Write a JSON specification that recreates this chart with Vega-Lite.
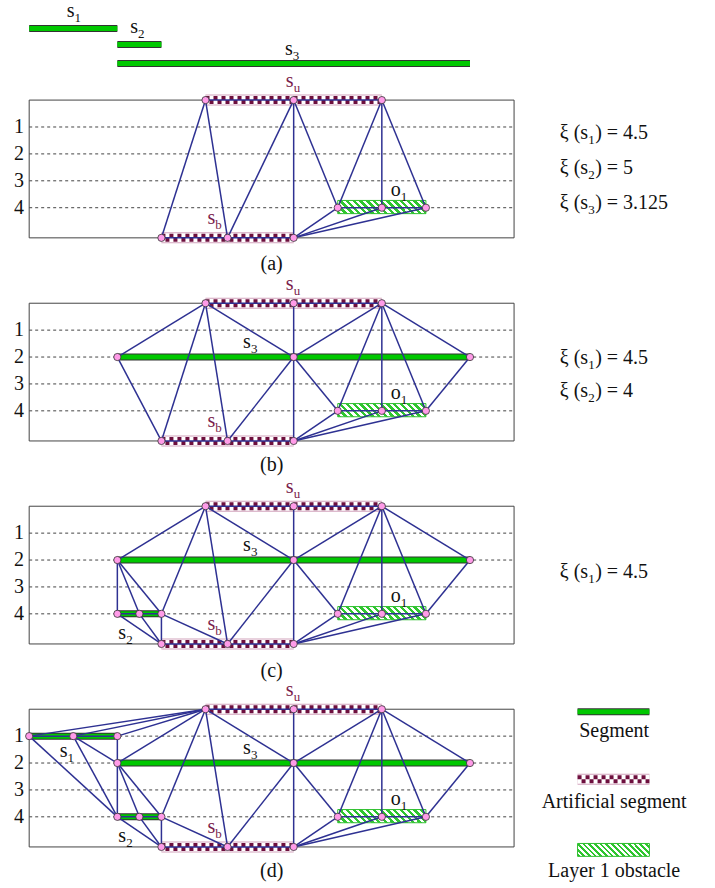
{
  "$schema": "https://vega.github.io/schema/vega-lite/v6.json",
  "padding": 0,
  "spacing": 0,
  "bounds": "flush",
  "config": {"font": "Liberation Serif", "view": {"stroke": null}},
  "datasets": {
    "frame": [{"x": 0, "x2": 11, "y": 0, "y2": 5.12}],
    "layers": [
      {"x": 0, "x2": 11, "y": 1, "label": "1"},
      {"x": 0, "x2": 11, "y": 2, "label": "2"},
      {"x": 0, "x2": 11, "y": 3, "label": "3"},
      {"x": 0, "x2": 11, "y": 4, "label": "4"}
    ],
    "ticks": [{"x": 1}, {"x": 2}, {"x": 3}, {"x": 4}, {"x": 5}, {"x": 6}, {"x": 7}, {"x": 8}, {"x": 9}, {"x": 10}],
    "points": [
      {"x": 4, "y": 0, "first": 1, "last": 4}, {"x": 6, "y": 0, "first": 1, "last": 4}, {"x": 8, "y": 0, "first": 1, "last": 4},
      {"x": 3, "y": 5.12, "first": 1, "last": 4}, {"x": 4.5, "y": 5.12, "first": 1, "last": 4}, {"x": 6, "y": 5.12, "first": 1, "last": 4},
      {"x": 7, "y": 4, "first": 1, "last": 4}, {"x": 8, "y": 4, "first": 1, "last": 4}, {"x": 9, "y": 4, "first": 1, "last": 4},
      {"x": 2, "y": 2, "first": 2, "last": 4}, {"x": 6, "y": 2, "first": 2, "last": 4}, {"x": 10, "y": 2, "first": 2, "last": 4},
      {"x": 2, "y": 4, "first": 3, "last": 4}, {"x": 2.5, "y": 4, "first": 3, "last": 4}, {"x": 3, "y": 4, "first": 3, "last": 4},
      {"x": 0, "y": 1, "first": 4, "last": 4}, {"x": 1, "y": 1, "first": 4, "last": 4}, {"x": 2, "y": 1, "first": 4, "last": 4}
    ],
    "edges": [
      {"x": 4, "y": 0, "x2": 8, "y2": 0, "first": 1, "last": 4},
      {"x": 3, "y": 5.12, "x2": 6, "y2": 5.12, "first": 1, "last": 4},
      {"x": 7, "y": 4, "x2": 9, "y2": 4, "first": 1, "last": 4},
      {"x": 4, "y": 0, "x2": 3, "y2": 5.12, "first": 1, "last": 2},
      {"x": 4, "y": 0, "x2": 4.5, "y2": 5.12, "first": 1, "last": 4},
      {"x": 6, "y": 0, "x2": 4.5, "y2": 5.12, "first": 1, "last": 1},
      {"x": 6, "y": 0, "x2": 6, "y2": 5.12, "first": 1, "last": 1},
      {"x": 6, "y": 0, "x2": 7, "y2": 4, "first": 1, "last": 1},
      {"x": 8, "y": 0, "x2": 7, "y2": 4, "first": 1, "last": 4},
      {"x": 8, "y": 0, "x2": 8, "y2": 4, "first": 1, "last": 4},
      {"x": 8, "y": 0, "x2": 9, "y2": 4, "first": 1, "last": 4},
      {"x": 6, "y": 5.12, "x2": 7, "y2": 4, "first": 1, "last": 4},
      {"x": 6, "y": 5.12, "x2": 8, "y2": 4, "first": 1, "last": 4},
      {"x": 6, "y": 5.12, "x2": 9, "y2": 4, "first": 1, "last": 4},
      {"x": 4, "y": 0, "x2": 2, "y2": 2, "first": 2, "last": 4},
      {"x": 4, "y": 0, "x2": 6, "y2": 2, "first": 2, "last": 4},
      {"x": 6, "y": 0, "x2": 6, "y2": 2, "first": 2, "last": 4},
      {"x": 6, "y": 2, "x2": 6, "y2": 5.12, "first": 2, "last": 4},
      {"x": 2, "y": 2, "x2": 3, "y2": 5.12, "first": 2, "last": 2},
      {"x": 6, "y": 2, "x2": 4.5, "y2": 5.12, "first": 2, "last": 4},
      {"x": 6, "y": 2, "x2": 7, "y2": 4, "first": 2, "last": 4},
      {"x": 8, "y": 0, "x2": 6, "y2": 2, "first": 2, "last": 4},
      {"x": 8, "y": 0, "x2": 10, "y2": 2, "first": 2, "last": 4},
      {"x": 10, "y": 2, "x2": 9, "y2": 4, "first": 2, "last": 4},
      {"x": 4, "y": 0, "x2": 3, "y2": 4, "first": 3, "last": 4},
      {"x": 2, "y": 2, "x2": 2, "y2": 4, "first": 3, "last": 4},
      {"x": 2, "y": 2, "x2": 2.5, "y2": 4, "first": 3, "last": 4},
      {"x": 2, "y": 2, "x2": 3, "y2": 4, "first": 3, "last": 4},
      {"x": 2, "y": 4, "x2": 3, "y2": 5.12, "first": 3, "last": 4},
      {"x": 2.5, "y": 4, "x2": 3, "y2": 5.12, "first": 3, "last": 4},
      {"x": 3, "y": 4, "x2": 3, "y2": 5.12, "first": 3, "last": 4},
      {"x": 3, "y": 4, "x2": 4.5, "y2": 5.12, "first": 3, "last": 4},
      {"x": 2, "y": 4, "x2": 3, "y2": 4, "first": 3, "last": 4},
      {"x": 4, "y": 0, "x2": 0, "y2": 1, "first": 4, "last": 4},
      {"x": 4, "y": 0, "x2": 1, "y2": 1, "first": 4, "last": 4},
      {"x": 4, "y": 0, "x2": 2, "y2": 1, "first": 4, "last": 4},
      {"x": 2, "y": 1, "x2": 2, "y2": 2, "first": 4, "last": 4},
      {"x": 0, "y": 1, "x2": 2, "y2": 4, "first": 4, "last": 4},
      {"x": 1, "y": 1, "x2": 2, "y2": 2, "first": 4, "last": 4},
      {"x": 1, "y": 1, "x2": 2, "y2": 4, "first": 4, "last": 4},
      {"x": 0, "y": 1, "x2": 2, "y2": 1, "first": 4, "last": 4}
    ],
    "bars": [
      {"x": 0, "x2": 2, "y": -2.665, "first": 1, "last": 1},
      {"x": 2, "x2": 3, "y": -2.07, "first": 1, "last": 1},
      {"x": 2, "x2": 10, "y": -1.364, "first": 1, "last": 1},
      {"x": 2, "x2": 10, "y": 2, "first": 2, "last": 4},
      {"x": 2, "x2": 3, "y": 4, "first": 3, "last": 4},
      {"x": 0, "x2": 2, "y": 1, "first": 4, "last": 4},
      {"x": 12.44, "x2": 14.07, "y": 0.09, "first": 4, "last": 4}
    ],
    "artificial": [
      {"x": 4, "x2": 8, "y": 0, "first": 1, "last": 4},
      {"x": 3, "x2": 6, "y": 5.12, "first": 1, "last": 4},
      {"x": 12.44, "x2": 14.07, "y": 2.6, "first": 4, "last": 4}
    ],
    "obstacles": [
      {"x": 7, "x2": 9, "y": 3.73, "y2": 4.22, "first": 1, "last": 4, "kind": "map"},
      {"x": 12.44, "x2": 14.07, "y": 4.99, "y2": 5.47, "first": 4, "last": 4, "kind": "legend"}
    ],
    "labels": [
      {"base": "s", "sub": "1", "kind": "plain", "x": 1.03, "y": -3.09, "first": 1, "last": 1},
      {"base": "s", "sub": "2", "kind": "plain", "x": 2.47, "y": -2.48, "first": 1, "last": 1},
      {"base": "s", "sub": "3", "kind": "plain", "x": 5.98, "y": -1.67, "first": 1, "last": 1},
      {"base": "s", "sub": "u", "kind": "artificial", "x": 6.0, "y": -0.48, "first": 1, "last": 4},
      {"base": "s", "sub": "b", "kind": "artificial", "x": 4.22, "y": 4.6, "first": 1, "last": 4},
      {"base": "o", "sub": "1", "kind": "plain", "x": 8.43, "y": 3.55, "first": 1, "last": 4},
      {"base": "s", "sub": "3", "kind": "plain", "x": 5.03, "y": 1.68, "first": 2, "last": 4},
      {"base": "s", "sub": "2", "kind": "plain", "x": 2.2, "y": 4.92, "first": 3, "last": 4},
      {"base": "s", "sub": "1", "kind": "plain", "x": 0.87, "y": 1.76, "first": 4, "last": 4}
    ],
    "xi": [
      {"pre": "ξ (s", "sub": "1", "post": ") = 4.5", "x": 12.68, "y": 1.45, "panel": 1},
      {"pre": "ξ (s", "sub": "2", "post": ") = 5", "x": 12.68, "y": 2.75, "panel": 1},
      {"pre": "ξ (s", "sub": "3", "post": ") = 3.125", "x": 12.68, "y": 4.06, "panel": 1},
      {"pre": "ξ (s", "sub": "1", "post": ") = 4.5", "x": 12.68, "y": 2.26, "panel": 2},
      {"pre": "ξ (s", "sub": "2", "post": ") = 4", "x": 12.68, "y": 3.47, "panel": 2},
      {"pre": "ξ (s", "sub": "1", "post": ") = 4.5", "x": 12.68, "y": 2.66, "panel": 3}
    ],
    "notes": [
      {"text": "(a)", "x": 5.5, "y": 6.3, "panel": 1},
      {"text": "(b)", "x": 5.5, "y": 6.25, "panel": 2},
      {"text": "(c)", "x": 5.5, "y": 6.33, "panel": 3},
      {"text": "(d)", "x": 5.5, "y": 6.23, "panel": 4},
      {"text": "Segment", "x": 13.27, "y": 1.02, "panel": 4},
      {"text": "Artificial segment", "x": 13.27, "y": 3.68, "panel": 4},
      {"text": "Layer 1 obstacle", "x": 13.27, "y": 6.22, "panel": 4}
    ]
  },
  "vconcat": [
    {
      "width": 715,
      "height": 300,
      "encoding": {
        "x": {"field": "x", "type": "quantitative", "scale": {"domain": [-0.662, 15.558], "nice": false, "zero": false}, "axis": null},
        "y": {"field": "y", "type": "quantitative", "scale": {"domain": [-3.72, 7.43], "reverse": true, "nice": false, "zero": false}, "axis": null}
      },
      "layer": [
        {"data": {"name": "frame"}, "mark": {"type": "rect", "fillOpacity": 0, "stroke": "#444444", "strokeWidth": 1}, "encoding": {"x2": {"field": "x2"}, "y2": {"field": "y2"}}},
        {"data": {"name": "layers"}, "mark": {"type": "rule", "stroke": "#444444", "strokeWidth": 1, "strokeDash": [3, 3]}, "encoding": {"x2": {"field": "x2"}}},
        {"data": {"name": "layers"}, "mark": {"type": "text", "fontSize": 20, "align": "center", "baseline": "middle", "color": "#111111"}, "encoding": {"x": {"datum": -0.23}, "text": {"field": "label"}}},
        {"data": {"name": "ticks"}, "mark": {"type": "rule", "stroke": "#444444", "strokeWidth": 1}, "encoding": {"y": {"datum": -0.19}, "y2": {"datum": 0.27}}},
        {"data": {"name": "artificial"}, "transform": [{"filter": "datum.first <= 1 && datum.last >= 1"}], "mark": {"type": "rule", "stroke": "#d2a3bc", "strokeWidth": 11}, "encoding": {"x2": {"field": "x2"}}},
        {"data": {"name": "artificial"}, "transform": [{"filter": "datum.first <= 1 && datum.last >= 1"}], "mark": {"type": "rule", "stroke": "#ffffff", "strokeWidth": 9}, "encoding": {"x2": {"field": "x2"}}},
        {"data": {"name": "artificial"}, "transform": [{"filter": "datum.first <= 1 && datum.last >= 1"}], "mark": {"type": "rule", "stroke": "#6e0f3e", "strokeWidth": 4, "strokeDash": [4, 4], "yOffset": -2, "y2Offset": -2}, "encoding": {"x2": {"field": "x2"}}},
        {"data": {"name": "artificial"}, "transform": [{"filter": "datum.first <= 1 && datum.last >= 1"}], "mark": {"type": "rule", "stroke": "#6e0f3e", "strokeWidth": 4, "strokeDash": [4, 4], "strokeDashOffset": 4, "yOffset": 2, "y2Offset": 2}, "encoding": {"x2": {"field": "x2"}}},
        {"data": {"name": "obstacles"}, "transform": [{"filter": "datum.first <= 1 && datum.last >= 1 && datum.kind === 'map'"}], "mark": {"type": "rect", "stroke": "#2fbf2f", "strokeWidth": 1, "fill": {"gradient": "linear", "x1": 0, "y1": 1, "x2": 1.1234, "y2": 0.8337, "stops": [{"offset":0,"color":"#2fc62f"},{"offset":0.0333,"color":"#2fc62f"},{"offset":0.0333,"color":"#ffffff"},{"offset":0.0667,"color":"#ffffff"},{"offset":0.0667,"color":"#2fc62f"},{"offset":0.1,"color":"#2fc62f"},{"offset":0.1,"color":"#ffffff"},{"offset":0.1333,"color":"#ffffff"},{"offset":0.1333,"color":"#2fc62f"},{"offset":0.1667,"color":"#2fc62f"},{"offset":0.1667,"color":"#ffffff"},{"offset":0.2,"color":"#ffffff"},{"offset":0.2,"color":"#2fc62f"},{"offset":0.2333,"color":"#2fc62f"},{"offset":0.2333,"color":"#ffffff"},{"offset":0.2667,"color":"#ffffff"},{"offset":0.2667,"color":"#2fc62f"},{"offset":0.3,"color":"#2fc62f"},{"offset":0.3,"color":"#ffffff"},{"offset":0.3333,"color":"#ffffff"},{"offset":0.3333,"color":"#2fc62f"},{"offset":0.3667,"color":"#2fc62f"},{"offset":0.3667,"color":"#ffffff"},{"offset":0.4,"color":"#ffffff"},{"offset":0.4,"color":"#2fc62f"},{"offset":0.4333,"color":"#2fc62f"},{"offset":0.4333,"color":"#ffffff"},{"offset":0.4667,"color":"#ffffff"},{"offset":0.4667,"color":"#2fc62f"},{"offset":0.5,"color":"#2fc62f"},{"offset":0.5,"color":"#ffffff"},{"offset":0.5333,"color":"#ffffff"},{"offset":0.5333,"color":"#2fc62f"},{"offset":0.5667,"color":"#2fc62f"},{"offset":0.5667,"color":"#ffffff"},{"offset":0.6,"color":"#ffffff"},{"offset":0.6,"color":"#2fc62f"},{"offset":0.6333,"color":"#2fc62f"},{"offset":0.6333,"color":"#ffffff"},{"offset":0.6667,"color":"#ffffff"},{"offset":0.6667,"color":"#2fc62f"},{"offset":0.7,"color":"#2fc62f"},{"offset":0.7,"color":"#ffffff"},{"offset":0.7333,"color":"#ffffff"},{"offset":0.7333,"color":"#2fc62f"},{"offset":0.7667,"color":"#2fc62f"},{"offset":0.7667,"color":"#ffffff"},{"offset":0.8,"color":"#ffffff"},{"offset":0.8,"color":"#2fc62f"},{"offset":0.8333,"color":"#2fc62f"},{"offset":0.8333,"color":"#ffffff"},{"offset":0.8667,"color":"#ffffff"},{"offset":0.8667,"color":"#2fc62f"},{"offset":0.9,"color":"#2fc62f"},{"offset":0.9,"color":"#ffffff"},{"offset":0.9333,"color":"#ffffff"},{"offset":0.9333,"color":"#2fc62f"},{"offset":0.9667,"color":"#2fc62f"},{"offset":0.9667,"color":"#ffffff"},{"offset":1,"color":"#ffffff"}]}}, "encoding": {"x2": {"field": "x2"}, "y2": {"field": "y2"}}},
        {"data": {"name": "bars"}, "transform": [{"filter": "datum.first <= 1 && datum.last >= 1"}], "mark": {"type": "rule", "stroke": "#333333", "strokeWidth": 7}, "encoding": {"x2": {"field": "x2"}}},
        {"data": {"name": "bars"}, "transform": [{"filter": "datum.first <= 1 && datum.last >= 1"}], "mark": {"type": "rule", "stroke": "#00c800", "strokeWidth": 5}, "encoding": {"x2": {"field": "x2"}}},
        {"data": {"name": "edges"}, "transform": [{"filter": "datum.first <= 1 && datum.last >= 1"}], "mark": {"type": "rule", "stroke": "#2e3192", "strokeWidth": 1.5}, "encoding": {"x2": {"field": "x2"}, "y2": {"field": "y2"}}},
        {"data": {"name": "points"}, "transform": [{"filter": "datum.first <= 1 && datum.last >= 1"}], "mark": {"type": "point", "shape": "circle", "filled": true, "fill": "#ff9be8", "stroke": "#333333", "strokeWidth": 0.8, "size": 52, "opacity": 1}},
        {"data": {"name": "labels"}, "transform": [{"filter": "datum.first <= 1 && datum.last >= 1"}], "mark": {"type": "text", "fontSize": 20, "align": "right", "baseline": "alphabetic"}, "encoding": {"text": {"field": "base"}, "color": {"field": "kind", "type": "nominal", "scale": {"domain": ["plain", "artificial"], "range": ["#111111", "#7a1d4c"]}, "legend": null}}},
        {"data": {"name": "labels"}, "transform": [{"filter": "datum.first <= 1 && datum.last >= 1"}], "mark": {"type": "text", "fontSize": 13, "align": "left", "baseline": "alphabetic", "dy": 5}, "encoding": {"text": {"field": "sub"}, "color": {"field": "kind", "type": "nominal", "scale": {"domain": ["plain", "artificial"], "range": ["#111111", "#7a1d4c"]}, "legend": null}}},
        {"data": {"name": "xi"}, "transform": [{"filter": "datum.panel === 1"}], "mark": {"type": "text", "fontSize": 20, "align": "right", "baseline": "alphabetic", "color": "#111111"}, "encoding": {"text": {"field": "pre"}}},
        {"data": {"name": "xi"}, "transform": [{"filter": "datum.panel === 1"}], "mark": {"type": "text", "fontSize": 13, "align": "left", "baseline": "alphabetic", "dy": 5, "color": "#111111"}, "encoding": {"text": {"field": "sub"}}},
        {"data": {"name": "xi"}, "transform": [{"filter": "datum.panel === 1"}], "mark": {"type": "text", "fontSize": 20, "align": "left", "baseline": "alphabetic", "dx": 7, "color": "#111111"}, "encoding": {"text": {"field": "post"}}},
        {"data": {"name": "notes"}, "transform": [{"filter": "datum.panel === 1"}], "mark": {"type": "text", "fontSize": 20, "align": "center", "baseline": "alphabetic", "color": "#111111"}, "encoding": {"text": {"field": "text"}}}
      ]
    },
    {
      "width": 715,
      "height": 203,
      "encoding": {
        "x": {"field": "x", "type": "quantitative", "scale": {"domain": [-0.662, 15.558], "nice": false, "zero": false}, "axis": null},
        "y": {"field": "y", "type": "quantitative", "scale": {"domain": [-0.12, 7.426], "reverse": true, "nice": false, "zero": false}, "axis": null}
      },
      "layer": [
        {"data": {"name": "frame"}, "mark": {"type": "rect", "fillOpacity": 0, "stroke": "#444444", "strokeWidth": 1}, "encoding": {"x2": {"field": "x2"}, "y2": {"field": "y2"}}},
        {"data": {"name": "layers"}, "mark": {"type": "rule", "stroke": "#444444", "strokeWidth": 1, "strokeDash": [3, 3]}, "encoding": {"x2": {"field": "x2"}}},
        {"data": {"name": "layers"}, "mark": {"type": "text", "fontSize": 20, "align": "center", "baseline": "middle", "color": "#111111"}, "encoding": {"x": {"datum": -0.23}, "text": {"field": "label"}}},
        {"data": {"name": "ticks"}, "mark": {"type": "rule", "stroke": "#444444", "strokeWidth": 1}, "encoding": {"y": {"datum": -0.19}, "y2": {"datum": 0.27}}},
        {"data": {"name": "artificial"}, "transform": [{"filter": "datum.first <= 2 && datum.last >= 2"}], "mark": {"type": "rule", "stroke": "#d2a3bc", "strokeWidth": 11}, "encoding": {"x2": {"field": "x2"}}},
        {"data": {"name": "artificial"}, "transform": [{"filter": "datum.first <= 2 && datum.last >= 2"}], "mark": {"type": "rule", "stroke": "#ffffff", "strokeWidth": 9}, "encoding": {"x2": {"field": "x2"}}},
        {"data": {"name": "artificial"}, "transform": [{"filter": "datum.first <= 2 && datum.last >= 2"}], "mark": {"type": "rule", "stroke": "#6e0f3e", "strokeWidth": 4, "strokeDash": [4, 4], "yOffset": -2, "y2Offset": -2}, "encoding": {"x2": {"field": "x2"}}},
        {"data": {"name": "artificial"}, "transform": [{"filter": "datum.first <= 2 && datum.last >= 2"}], "mark": {"type": "rule", "stroke": "#6e0f3e", "strokeWidth": 4, "strokeDash": [4, 4], "strokeDashOffset": 4, "yOffset": 2, "y2Offset": 2}, "encoding": {"x2": {"field": "x2"}}},
        {"data": {"name": "obstacles"}, "transform": [{"filter": "datum.first <= 2 && datum.last >= 2 && datum.kind === 'map'"}], "mark": {"type": "rect", "stroke": "#2fbf2f", "strokeWidth": 1, "fill": {"gradient": "linear", "x1": 0, "y1": 1, "x2": 1.1234, "y2": 0.8337, "stops": [{"offset":0,"color":"#2fc62f"},{"offset":0.0333,"color":"#2fc62f"},{"offset":0.0333,"color":"#ffffff"},{"offset":0.0667,"color":"#ffffff"},{"offset":0.0667,"color":"#2fc62f"},{"offset":0.1,"color":"#2fc62f"},{"offset":0.1,"color":"#ffffff"},{"offset":0.1333,"color":"#ffffff"},{"offset":0.1333,"color":"#2fc62f"},{"offset":0.1667,"color":"#2fc62f"},{"offset":0.1667,"color":"#ffffff"},{"offset":0.2,"color":"#ffffff"},{"offset":0.2,"color":"#2fc62f"},{"offset":0.2333,"color":"#2fc62f"},{"offset":0.2333,"color":"#ffffff"},{"offset":0.2667,"color":"#ffffff"},{"offset":0.2667,"color":"#2fc62f"},{"offset":0.3,"color":"#2fc62f"},{"offset":0.3,"color":"#ffffff"},{"offset":0.3333,"color":"#ffffff"},{"offset":0.3333,"color":"#2fc62f"},{"offset":0.3667,"color":"#2fc62f"},{"offset":0.3667,"color":"#ffffff"},{"offset":0.4,"color":"#ffffff"},{"offset":0.4,"color":"#2fc62f"},{"offset":0.4333,"color":"#2fc62f"},{"offset":0.4333,"color":"#ffffff"},{"offset":0.4667,"color":"#ffffff"},{"offset":0.4667,"color":"#2fc62f"},{"offset":0.5,"color":"#2fc62f"},{"offset":0.5,"color":"#ffffff"},{"offset":0.5333,"color":"#ffffff"},{"offset":0.5333,"color":"#2fc62f"},{"offset":0.5667,"color":"#2fc62f"},{"offset":0.5667,"color":"#ffffff"},{"offset":0.6,"color":"#ffffff"},{"offset":0.6,"color":"#2fc62f"},{"offset":0.6333,"color":"#2fc62f"},{"offset":0.6333,"color":"#ffffff"},{"offset":0.6667,"color":"#ffffff"},{"offset":0.6667,"color":"#2fc62f"},{"offset":0.7,"color":"#2fc62f"},{"offset":0.7,"color":"#ffffff"},{"offset":0.7333,"color":"#ffffff"},{"offset":0.7333,"color":"#2fc62f"},{"offset":0.7667,"color":"#2fc62f"},{"offset":0.7667,"color":"#ffffff"},{"offset":0.8,"color":"#ffffff"},{"offset":0.8,"color":"#2fc62f"},{"offset":0.8333,"color":"#2fc62f"},{"offset":0.8333,"color":"#ffffff"},{"offset":0.8667,"color":"#ffffff"},{"offset":0.8667,"color":"#2fc62f"},{"offset":0.9,"color":"#2fc62f"},{"offset":0.9,"color":"#ffffff"},{"offset":0.9333,"color":"#ffffff"},{"offset":0.9333,"color":"#2fc62f"},{"offset":0.9667,"color":"#2fc62f"},{"offset":0.9667,"color":"#ffffff"},{"offset":1,"color":"#ffffff"}]}}, "encoding": {"x2": {"field": "x2"}, "y2": {"field": "y2"}}},
        {"data": {"name": "bars"}, "transform": [{"filter": "datum.first <= 2 && datum.last >= 2"}], "mark": {"type": "rule", "stroke": "#333333", "strokeWidth": 7}, "encoding": {"x2": {"field": "x2"}}},
        {"data": {"name": "bars"}, "transform": [{"filter": "datum.first <= 2 && datum.last >= 2"}], "mark": {"type": "rule", "stroke": "#00c800", "strokeWidth": 5}, "encoding": {"x2": {"field": "x2"}}},
        {"data": {"name": "edges"}, "transform": [{"filter": "datum.first <= 2 && datum.last >= 2"}], "mark": {"type": "rule", "stroke": "#2e3192", "strokeWidth": 1.5}, "encoding": {"x2": {"field": "x2"}, "y2": {"field": "y2"}}},
        {"data": {"name": "points"}, "transform": [{"filter": "datum.first <= 2 && datum.last >= 2"}], "mark": {"type": "point", "shape": "circle", "filled": true, "fill": "#ff9be8", "stroke": "#333333", "strokeWidth": 0.8, "size": 52, "opacity": 1}},
        {"data": {"name": "labels"}, "transform": [{"filter": "datum.first <= 2 && datum.last >= 2"}], "mark": {"type": "text", "fontSize": 20, "align": "right", "baseline": "alphabetic"}, "encoding": {"text": {"field": "base"}, "color": {"field": "kind", "type": "nominal", "scale": {"domain": ["plain", "artificial"], "range": ["#111111", "#7a1d4c"]}, "legend": null}}},
        {"data": {"name": "labels"}, "transform": [{"filter": "datum.first <= 2 && datum.last >= 2"}], "mark": {"type": "text", "fontSize": 13, "align": "left", "baseline": "alphabetic", "dy": 5}, "encoding": {"text": {"field": "sub"}, "color": {"field": "kind", "type": "nominal", "scale": {"domain": ["plain", "artificial"], "range": ["#111111", "#7a1d4c"]}, "legend": null}}},
        {"data": {"name": "xi"}, "transform": [{"filter": "datum.panel === 2"}], "mark": {"type": "text", "fontSize": 20, "align": "right", "baseline": "alphabetic", "color": "#111111"}, "encoding": {"text": {"field": "pre"}}},
        {"data": {"name": "xi"}, "transform": [{"filter": "datum.panel === 2"}], "mark": {"type": "text", "fontSize": 13, "align": "left", "baseline": "alphabetic", "dy": 5, "color": "#111111"}, "encoding": {"text": {"field": "sub"}}},
        {"data": {"name": "xi"}, "transform": [{"filter": "datum.panel === 2"}], "mark": {"type": "text", "fontSize": 20, "align": "left", "baseline": "alphabetic", "dx": 7, "color": "#111111"}, "encoding": {"text": {"field": "post"}}},
        {"data": {"name": "notes"}, "transform": [{"filter": "datum.panel === 2"}], "mark": {"type": "text", "fontSize": 20, "align": "center", "baseline": "alphabetic", "color": "#111111"}, "encoding": {"text": {"field": "text"}}}
      ]
    },
    {
      "width": 715,
      "height": 203,
      "encoding": {
        "x": {"field": "x", "type": "quantitative", "scale": {"domain": [-0.662, 15.558], "nice": false, "zero": false}, "axis": null},
        "y": {"field": "y", "type": "quantitative", "scale": {"domain": [-0.12, 7.426], "reverse": true, "nice": false, "zero": false}, "axis": null}
      },
      "layer": [
        {"data": {"name": "frame"}, "mark": {"type": "rect", "fillOpacity": 0, "stroke": "#444444", "strokeWidth": 1}, "encoding": {"x2": {"field": "x2"}, "y2": {"field": "y2"}}},
        {"data": {"name": "layers"}, "mark": {"type": "rule", "stroke": "#444444", "strokeWidth": 1, "strokeDash": [3, 3]}, "encoding": {"x2": {"field": "x2"}}},
        {"data": {"name": "layers"}, "mark": {"type": "text", "fontSize": 20, "align": "center", "baseline": "middle", "color": "#111111"}, "encoding": {"x": {"datum": -0.23}, "text": {"field": "label"}}},
        {"data": {"name": "ticks"}, "mark": {"type": "rule", "stroke": "#444444", "strokeWidth": 1}, "encoding": {"y": {"datum": -0.19}, "y2": {"datum": 0.27}}},
        {"data": {"name": "artificial"}, "transform": [{"filter": "datum.first <= 3 && datum.last >= 3"}], "mark": {"type": "rule", "stroke": "#d2a3bc", "strokeWidth": 11}, "encoding": {"x2": {"field": "x2"}}},
        {"data": {"name": "artificial"}, "transform": [{"filter": "datum.first <= 3 && datum.last >= 3"}], "mark": {"type": "rule", "stroke": "#ffffff", "strokeWidth": 9}, "encoding": {"x2": {"field": "x2"}}},
        {"data": {"name": "artificial"}, "transform": [{"filter": "datum.first <= 3 && datum.last >= 3"}], "mark": {"type": "rule", "stroke": "#6e0f3e", "strokeWidth": 4, "strokeDash": [4, 4], "yOffset": -2, "y2Offset": -2}, "encoding": {"x2": {"field": "x2"}}},
        {"data": {"name": "artificial"}, "transform": [{"filter": "datum.first <= 3 && datum.last >= 3"}], "mark": {"type": "rule", "stroke": "#6e0f3e", "strokeWidth": 4, "strokeDash": [4, 4], "strokeDashOffset": 4, "yOffset": 2, "y2Offset": 2}, "encoding": {"x2": {"field": "x2"}}},
        {"data": {"name": "obstacles"}, "transform": [{"filter": "datum.first <= 3 && datum.last >= 3 && datum.kind === 'map'"}], "mark": {"type": "rect", "stroke": "#2fbf2f", "strokeWidth": 1, "fill": {"gradient": "linear", "x1": 0, "y1": 1, "x2": 1.1234, "y2": 0.8337, "stops": [{"offset":0,"color":"#2fc62f"},{"offset":0.0333,"color":"#2fc62f"},{"offset":0.0333,"color":"#ffffff"},{"offset":0.0667,"color":"#ffffff"},{"offset":0.0667,"color":"#2fc62f"},{"offset":0.1,"color":"#2fc62f"},{"offset":0.1,"color":"#ffffff"},{"offset":0.1333,"color":"#ffffff"},{"offset":0.1333,"color":"#2fc62f"},{"offset":0.1667,"color":"#2fc62f"},{"offset":0.1667,"color":"#ffffff"},{"offset":0.2,"color":"#ffffff"},{"offset":0.2,"color":"#2fc62f"},{"offset":0.2333,"color":"#2fc62f"},{"offset":0.2333,"color":"#ffffff"},{"offset":0.2667,"color":"#ffffff"},{"offset":0.2667,"color":"#2fc62f"},{"offset":0.3,"color":"#2fc62f"},{"offset":0.3,"color":"#ffffff"},{"offset":0.3333,"color":"#ffffff"},{"offset":0.3333,"color":"#2fc62f"},{"offset":0.3667,"color":"#2fc62f"},{"offset":0.3667,"color":"#ffffff"},{"offset":0.4,"color":"#ffffff"},{"offset":0.4,"color":"#2fc62f"},{"offset":0.4333,"color":"#2fc62f"},{"offset":0.4333,"color":"#ffffff"},{"offset":0.4667,"color":"#ffffff"},{"offset":0.4667,"color":"#2fc62f"},{"offset":0.5,"color":"#2fc62f"},{"offset":0.5,"color":"#ffffff"},{"offset":0.5333,"color":"#ffffff"},{"offset":0.5333,"color":"#2fc62f"},{"offset":0.5667,"color":"#2fc62f"},{"offset":0.5667,"color":"#ffffff"},{"offset":0.6,"color":"#ffffff"},{"offset":0.6,"color":"#2fc62f"},{"offset":0.6333,"color":"#2fc62f"},{"offset":0.6333,"color":"#ffffff"},{"offset":0.6667,"color":"#ffffff"},{"offset":0.6667,"color":"#2fc62f"},{"offset":0.7,"color":"#2fc62f"},{"offset":0.7,"color":"#ffffff"},{"offset":0.7333,"color":"#ffffff"},{"offset":0.7333,"color":"#2fc62f"},{"offset":0.7667,"color":"#2fc62f"},{"offset":0.7667,"color":"#ffffff"},{"offset":0.8,"color":"#ffffff"},{"offset":0.8,"color":"#2fc62f"},{"offset":0.8333,"color":"#2fc62f"},{"offset":0.8333,"color":"#ffffff"},{"offset":0.8667,"color":"#ffffff"},{"offset":0.8667,"color":"#2fc62f"},{"offset":0.9,"color":"#2fc62f"},{"offset":0.9,"color":"#ffffff"},{"offset":0.9333,"color":"#ffffff"},{"offset":0.9333,"color":"#2fc62f"},{"offset":0.9667,"color":"#2fc62f"},{"offset":0.9667,"color":"#ffffff"},{"offset":1,"color":"#ffffff"}]}}, "encoding": {"x2": {"field": "x2"}, "y2": {"field": "y2"}}},
        {"data": {"name": "bars"}, "transform": [{"filter": "datum.first <= 3 && datum.last >= 3"}], "mark": {"type": "rule", "stroke": "#333333", "strokeWidth": 7}, "encoding": {"x2": {"field": "x2"}}},
        {"data": {"name": "bars"}, "transform": [{"filter": "datum.first <= 3 && datum.last >= 3"}], "mark": {"type": "rule", "stroke": "#00c800", "strokeWidth": 5}, "encoding": {"x2": {"field": "x2"}}},
        {"data": {"name": "edges"}, "transform": [{"filter": "datum.first <= 3 && datum.last >= 3"}], "mark": {"type": "rule", "stroke": "#2e3192", "strokeWidth": 1.5}, "encoding": {"x2": {"field": "x2"}, "y2": {"field": "y2"}}},
        {"data": {"name": "points"}, "transform": [{"filter": "datum.first <= 3 && datum.last >= 3"}], "mark": {"type": "point", "shape": "circle", "filled": true, "fill": "#ff9be8", "stroke": "#333333", "strokeWidth": 0.8, "size": 52, "opacity": 1}},
        {"data": {"name": "labels"}, "transform": [{"filter": "datum.first <= 3 && datum.last >= 3"}], "mark": {"type": "text", "fontSize": 20, "align": "right", "baseline": "alphabetic"}, "encoding": {"text": {"field": "base"}, "color": {"field": "kind", "type": "nominal", "scale": {"domain": ["plain", "artificial"], "range": ["#111111", "#7a1d4c"]}, "legend": null}}},
        {"data": {"name": "labels"}, "transform": [{"filter": "datum.first <= 3 && datum.last >= 3"}], "mark": {"type": "text", "fontSize": 13, "align": "left", "baseline": "alphabetic", "dy": 5}, "encoding": {"text": {"field": "sub"}, "color": {"field": "kind", "type": "nominal", "scale": {"domain": ["plain", "artificial"], "range": ["#111111", "#7a1d4c"]}, "legend": null}}},
        {"data": {"name": "xi"}, "transform": [{"filter": "datum.panel === 3"}], "mark": {"type": "text", "fontSize": 20, "align": "right", "baseline": "alphabetic", "color": "#111111"}, "encoding": {"text": {"field": "pre"}}},
        {"data": {"name": "xi"}, "transform": [{"filter": "datum.panel === 3"}], "mark": {"type": "text", "fontSize": 13, "align": "left", "baseline": "alphabetic", "dy": 5, "color": "#111111"}, "encoding": {"text": {"field": "sub"}}},
        {"data": {"name": "xi"}, "transform": [{"filter": "datum.panel === 3"}], "mark": {"type": "text", "fontSize": 20, "align": "left", "baseline": "alphabetic", "dx": 7, "color": "#111111"}, "encoding": {"text": {"field": "post"}}},
        {"data": {"name": "notes"}, "transform": [{"filter": "datum.panel === 3"}], "mark": {"type": "text", "fontSize": 20, "align": "center", "baseline": "alphabetic", "color": "#111111"}, "encoding": {"text": {"field": "text"}}}
      ]
    },
    {
      "width": 715,
      "height": 182,
      "encoding": {
        "x": {"field": "x", "type": "quantitative", "scale": {"domain": [-0.662, 15.558], "nice": false, "zero": false}, "axis": null},
        "y": {"field": "y", "type": "quantitative", "scale": {"domain": [-0.12, 6.646], "reverse": true, "nice": false, "zero": false}, "axis": null}
      },
      "layer": [
        {"data": {"name": "frame"}, "mark": {"type": "rect", "fillOpacity": 0, "stroke": "#444444", "strokeWidth": 1}, "encoding": {"x2": {"field": "x2"}, "y2": {"field": "y2"}}},
        {"data": {"name": "layers"}, "mark": {"type": "rule", "stroke": "#444444", "strokeWidth": 1, "strokeDash": [3, 3]}, "encoding": {"x2": {"field": "x2"}}},
        {"data": {"name": "layers"}, "mark": {"type": "text", "fontSize": 20, "align": "center", "baseline": "middle", "color": "#111111"}, "encoding": {"x": {"datum": -0.23}, "text": {"field": "label"}}},
        {"data": {"name": "ticks"}, "mark": {"type": "rule", "stroke": "#444444", "strokeWidth": 1}, "encoding": {"y": {"datum": -0.19}, "y2": {"datum": 0.27}}},
        {"data": {"name": "artificial"}, "transform": [{"filter": "datum.first <= 4 && datum.last >= 4"}], "mark": {"type": "rule", "stroke": "#d2a3bc", "strokeWidth": 11}, "encoding": {"x2": {"field": "x2"}}},
        {"data": {"name": "artificial"}, "transform": [{"filter": "datum.first <= 4 && datum.last >= 4"}], "mark": {"type": "rule", "stroke": "#ffffff", "strokeWidth": 9}, "encoding": {"x2": {"field": "x2"}}},
        {"data": {"name": "artificial"}, "transform": [{"filter": "datum.first <= 4 && datum.last >= 4"}], "mark": {"type": "rule", "stroke": "#6e0f3e", "strokeWidth": 4, "strokeDash": [4, 4], "yOffset": -2, "y2Offset": -2}, "encoding": {"x2": {"field": "x2"}}},
        {"data": {"name": "artificial"}, "transform": [{"filter": "datum.first <= 4 && datum.last >= 4"}], "mark": {"type": "rule", "stroke": "#6e0f3e", "strokeWidth": 4, "strokeDash": [4, 4], "strokeDashOffset": 4, "yOffset": 2, "y2Offset": 2}, "encoding": {"x2": {"field": "x2"}}},
        {"data": {"name": "obstacles"}, "transform": [{"filter": "datum.first <= 4 && datum.last >= 4 && datum.kind === 'map'"}], "mark": {"type": "rect", "stroke": "#2fbf2f", "strokeWidth": 1, "fill": {"gradient": "linear", "x1": 0, "y1": 1, "x2": 1.1234, "y2": 0.8337, "stops": [{"offset":0,"color":"#2fc62f"},{"offset":0.0333,"color":"#2fc62f"},{"offset":0.0333,"color":"#ffffff"},{"offset":0.0667,"color":"#ffffff"},{"offset":0.0667,"color":"#2fc62f"},{"offset":0.1,"color":"#2fc62f"},{"offset":0.1,"color":"#ffffff"},{"offset":0.1333,"color":"#ffffff"},{"offset":0.1333,"color":"#2fc62f"},{"offset":0.1667,"color":"#2fc62f"},{"offset":0.1667,"color":"#ffffff"},{"offset":0.2,"color":"#ffffff"},{"offset":0.2,"color":"#2fc62f"},{"offset":0.2333,"color":"#2fc62f"},{"offset":0.2333,"color":"#ffffff"},{"offset":0.2667,"color":"#ffffff"},{"offset":0.2667,"color":"#2fc62f"},{"offset":0.3,"color":"#2fc62f"},{"offset":0.3,"color":"#ffffff"},{"offset":0.3333,"color":"#ffffff"},{"offset":0.3333,"color":"#2fc62f"},{"offset":0.3667,"color":"#2fc62f"},{"offset":0.3667,"color":"#ffffff"},{"offset":0.4,"color":"#ffffff"},{"offset":0.4,"color":"#2fc62f"},{"offset":0.4333,"color":"#2fc62f"},{"offset":0.4333,"color":"#ffffff"},{"offset":0.4667,"color":"#ffffff"},{"offset":0.4667,"color":"#2fc62f"},{"offset":0.5,"color":"#2fc62f"},{"offset":0.5,"color":"#ffffff"},{"offset":0.5333,"color":"#ffffff"},{"offset":0.5333,"color":"#2fc62f"},{"offset":0.5667,"color":"#2fc62f"},{"offset":0.5667,"color":"#ffffff"},{"offset":0.6,"color":"#ffffff"},{"offset":0.6,"color":"#2fc62f"},{"offset":0.6333,"color":"#2fc62f"},{"offset":0.6333,"color":"#ffffff"},{"offset":0.6667,"color":"#ffffff"},{"offset":0.6667,"color":"#2fc62f"},{"offset":0.7,"color":"#2fc62f"},{"offset":0.7,"color":"#ffffff"},{"offset":0.7333,"color":"#ffffff"},{"offset":0.7333,"color":"#2fc62f"},{"offset":0.7667,"color":"#2fc62f"},{"offset":0.7667,"color":"#ffffff"},{"offset":0.8,"color":"#ffffff"},{"offset":0.8,"color":"#2fc62f"},{"offset":0.8333,"color":"#2fc62f"},{"offset":0.8333,"color":"#ffffff"},{"offset":0.8667,"color":"#ffffff"},{"offset":0.8667,"color":"#2fc62f"},{"offset":0.9,"color":"#2fc62f"},{"offset":0.9,"color":"#ffffff"},{"offset":0.9333,"color":"#ffffff"},{"offset":0.9333,"color":"#2fc62f"},{"offset":0.9667,"color":"#2fc62f"},{"offset":0.9667,"color":"#ffffff"},{"offset":1,"color":"#ffffff"}]}}, "encoding": {"x2": {"field": "x2"}, "y2": {"field": "y2"}}},
        {"data": {"name": "obstacles"}, "transform": [{"filter": "datum.kind === 'legend'"}], "mark": {"type": "rect", "stroke": "#2fbf2f", "strokeWidth": 1, "fill": {"gradient": "linear", "x1": 0, "y1": 1, "x2": 1.1424, "y2": 0.7955, "stops": [{"offset":0,"color":"#2fc62f"},{"offset":0.0333,"color":"#2fc62f"},{"offset":0.0333,"color":"#ffffff"},{"offset":0.0667,"color":"#ffffff"},{"offset":0.0667,"color":"#2fc62f"},{"offset":0.1,"color":"#2fc62f"},{"offset":0.1,"color":"#ffffff"},{"offset":0.1333,"color":"#ffffff"},{"offset":0.1333,"color":"#2fc62f"},{"offset":0.1667,"color":"#2fc62f"},{"offset":0.1667,"color":"#ffffff"},{"offset":0.2,"color":"#ffffff"},{"offset":0.2,"color":"#2fc62f"},{"offset":0.2333,"color":"#2fc62f"},{"offset":0.2333,"color":"#ffffff"},{"offset":0.2667,"color":"#ffffff"},{"offset":0.2667,"color":"#2fc62f"},{"offset":0.3,"color":"#2fc62f"},{"offset":0.3,"color":"#ffffff"},{"offset":0.3333,"color":"#ffffff"},{"offset":0.3333,"color":"#2fc62f"},{"offset":0.3667,"color":"#2fc62f"},{"offset":0.3667,"color":"#ffffff"},{"offset":0.4,"color":"#ffffff"},{"offset":0.4,"color":"#2fc62f"},{"offset":0.4333,"color":"#2fc62f"},{"offset":0.4333,"color":"#ffffff"},{"offset":0.4667,"color":"#ffffff"},{"offset":0.4667,"color":"#2fc62f"},{"offset":0.5,"color":"#2fc62f"},{"offset":0.5,"color":"#ffffff"},{"offset":0.5333,"color":"#ffffff"},{"offset":0.5333,"color":"#2fc62f"},{"offset":0.5667,"color":"#2fc62f"},{"offset":0.5667,"color":"#ffffff"},{"offset":0.6,"color":"#ffffff"},{"offset":0.6,"color":"#2fc62f"},{"offset":0.6333,"color":"#2fc62f"},{"offset":0.6333,"color":"#ffffff"},{"offset":0.6667,"color":"#ffffff"},{"offset":0.6667,"color":"#2fc62f"},{"offset":0.7,"color":"#2fc62f"},{"offset":0.7,"color":"#ffffff"},{"offset":0.7333,"color":"#ffffff"},{"offset":0.7333,"color":"#2fc62f"},{"offset":0.7667,"color":"#2fc62f"},{"offset":0.7667,"color":"#ffffff"},{"offset":0.8,"color":"#ffffff"},{"offset":0.8,"color":"#2fc62f"},{"offset":0.8333,"color":"#2fc62f"},{"offset":0.8333,"color":"#ffffff"},{"offset":0.8667,"color":"#ffffff"},{"offset":0.8667,"color":"#2fc62f"},{"offset":0.9,"color":"#2fc62f"},{"offset":0.9,"color":"#ffffff"},{"offset":0.9333,"color":"#ffffff"},{"offset":0.9333,"color":"#2fc62f"},{"offset":0.9667,"color":"#2fc62f"},{"offset":0.9667,"color":"#ffffff"},{"offset":1,"color":"#ffffff"}]}}, "encoding": {"x2": {"field": "x2"}, "y2": {"field": "y2"}}},
        {"data": {"name": "bars"}, "transform": [{"filter": "datum.first <= 4 && datum.last >= 4"}], "mark": {"type": "rule", "stroke": "#333333", "strokeWidth": 7}, "encoding": {"x2": {"field": "x2"}}},
        {"data": {"name": "bars"}, "transform": [{"filter": "datum.first <= 4 && datum.last >= 4"}], "mark": {"type": "rule", "stroke": "#00c800", "strokeWidth": 5}, "encoding": {"x2": {"field": "x2"}}},
        {"data": {"name": "edges"}, "transform": [{"filter": "datum.first <= 4 && datum.last >= 4"}], "mark": {"type": "rule", "stroke": "#2e3192", "strokeWidth": 1.5}, "encoding": {"x2": {"field": "x2"}, "y2": {"field": "y2"}}},
        {"data": {"name": "points"}, "transform": [{"filter": "datum.first <= 4 && datum.last >= 4"}], "mark": {"type": "point", "shape": "circle", "filled": true, "fill": "#ff9be8", "stroke": "#333333", "strokeWidth": 0.8, "size": 52, "opacity": 1}},
        {"data": {"name": "labels"}, "transform": [{"filter": "datum.first <= 4 && datum.last >= 4"}], "mark": {"type": "text", "fontSize": 20, "align": "right", "baseline": "alphabetic"}, "encoding": {"text": {"field": "base"}, "color": {"field": "kind", "type": "nominal", "scale": {"domain": ["plain", "artificial"], "range": ["#111111", "#7a1d4c"]}, "legend": null}}},
        {"data": {"name": "labels"}, "transform": [{"filter": "datum.first <= 4 && datum.last >= 4"}], "mark": {"type": "text", "fontSize": 13, "align": "left", "baseline": "alphabetic", "dy": 5}, "encoding": {"text": {"field": "sub"}, "color": {"field": "kind", "type": "nominal", "scale": {"domain": ["plain", "artificial"], "range": ["#111111", "#7a1d4c"]}, "legend": null}}},
        {"data": {"name": "notes"}, "transform": [{"filter": "datum.panel === 4"}], "mark": {"type": "text", "fontSize": 20, "align": "center", "baseline": "alphabetic", "color": "#111111"}, "encoding": {"text": {"field": "text"}}}
      ]
    }
  ]
}
